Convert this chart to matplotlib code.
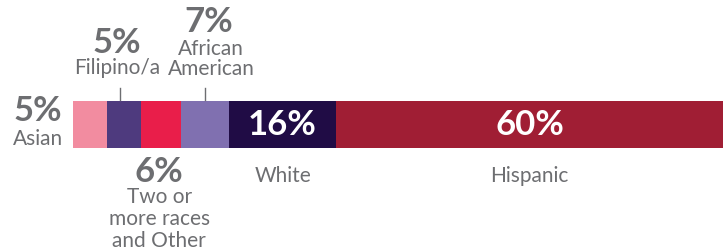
import numpy as np
import matplotlib.pyplot as plt

groups = ["Asian", "Filipino/a", "Two or\nmore races\nand Other", "African\nAmerican", "White", "Hispanic"]
shares = [5.2, 5.2, 6.1, 7.3, 16.3, 59.0]
pct_labels = ["5%", "5%", "6%", "7%", "16%", "60%"]
colors = ["#F28CA0", "#4E3A7E", "#E91E4A", "#8070B0", "#200C45", "#A01E34"]

grey = "#6D6E71"
plt.rcParams['font.family'] = ['Lato', 'DejaVu Sans']

fig = plt.figure(figsize=(7.23, 2.5), dpi=100)
ax = fig.add_axes([0, 0, 1, 1])
total = sum(shares)
scale = 650 / total  # pixels per unit
ax.set_xlim(-73 / scale, total)
ax.set_ylim(250, 0)
ax.axis('off')

left = np.concatenate([[0], np.cumsum(shares)[:-1]])
ax.barh(124.5, shares, left=left, height=47, color=colors)
mid = left + np.array(shares) / 2
px = 1 / scale

big = dict(fontsize=25, fontweight='bold', color=grey, ha='center', va='center')
small = dict(fontsize=15, color=grey, ha='center', va='center', linespacing=1.0)

# Asian, left of bar
ax.text(-35 * px, 111, pct_labels[0], **big)
ax.text(-35 * px, 139, groups[0], **small)

# Filipino/a, above
ax.text(mid[1] - 7 * px, 43, pct_labels[1], **big)
ax.text(mid[1] - 7 * px, 68, groups[1], **small)
ax.plot([mid[1] - 4 * px] * 2, [88, 100], color=grey, lw=1)

# Two or more, below
ax.text(mid[2] - 2 * px, 172, pct_labels[2], **big)
ax.text(mid[2] - 2 * px, 219, groups[2], fontsize=15, color=grey, ha='center',
        va='center', linespacing=1.1)

# African American, above
ax.text(mid[3] + 4 * px, 22, pct_labels[3], **big)
ax.text(mid[3] + 6 * px, 59, groups[3], fontsize=15, color=grey, ha='center',
        va='center', linespacing=1.05)
ax.plot([mid[3]] * 2, [88, 100], color=grey, lw=1)

# White and Hispanic, inside
for i in (4, 5):
    ax.text(mid[i], 125, pct_labels[i], fontsize=25, fontweight='bold',
            color='white', ha='center', va='center')
    ax.text(mid[i], 176, groups[i], **small)

fig.savefig("out.png", dpi=100)
